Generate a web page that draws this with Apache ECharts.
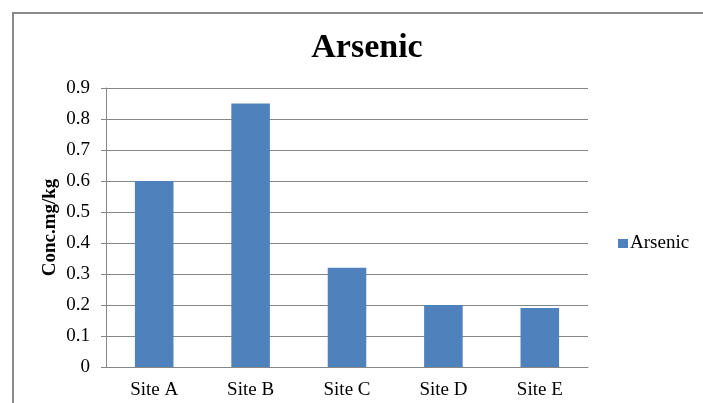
<!DOCTYPE html>
<html>
<head>
<meta charset="utf-8">
<script src="https://cdn.jsdelivr.net/npm/echarts@6/dist/echarts.min.js"></script>
<style>html,body{margin:0;padding:0;background:#fff;}#c{width:703px;height:403px;}</style>
</head>
<body>
<div id="c"></div>
<script>
const categories = ['Site A', 'Site B', 'Site C', 'Site D', 'Site E'];
const arsenic = [0.6, 0.85, 0.32, 0.2, 0.19];
const yTicks = { min: 0, max: 0.9, interval: 0.1 };

const serif = '"Liberation Serif", "Times New Roman", serif';
const chart = echarts.init(document.getElementById('c'), null, { renderer: 'canvas' });
chart.setOption({
  animation: false,
  backgroundColor: '#fff',
  graphic: [{
    type: 'rect',
    shape: { x: 13, y: 13, width: 720, height: 420 },
    style: { fill: 'none', stroke: '#8a8a8a', lineWidth: 2 },
    silent: true
  }],
  title: {
    text: 'Arsenic',
    left: 362, top: 26, textAlign: 'center',
    textStyle: { fontFamily: serif, fontWeight: 'bold', fontSize: 34, color: '#000' }
  },
  legend: {
    data: ['Arsenic'],
    orient: 'vertical',
    left: 613, top: 229,
    itemWidth: 10, itemHeight: 9, itemGap: 4,
    icon: 'rect',
    textStyle: { fontFamily: serif, fontSize: 19, color: '#000', padding: [0, 0, 0, -3] }
  },
  grid: { left: 106, right: 115, top: 88, bottom: 36 },
  xAxis: {
    type: 'category',
    data: categories,
    axisLine: { lineStyle: { color: '#868686', width: 1 } },
    axisTick: { show: false },
    axisLabel: { fontFamily: serif, fontSize: 19, color: '#000', margin: 14 }
  },
  yAxis: {
    type: 'value',
    min: yTicks.min, max: yTicks.max, interval: yTicks.interval,
    name: 'Conc.mg/kg',
    nameLocation: 'middle',
    nameGap: 46,
    nameRotate: 90,
    nameMoveOverlap: false,
    nameTextStyle: { fontFamily: serif, fontWeight: 'bold', fontSize: 19, color: '#000' },
    axisLine: { show: true, lineStyle: { color: '#868686', width: 1 } },
    axisTick: { show: true, length: 5, lineStyle: { color: '#868686' } },
    splitLine: { lineStyle: { color: '#868686', width: 1 } },
    axisLabel: {
      fontFamily: serif, fontSize: 19, color: '#000', margin: 16,
      formatter: v => String(Math.round(v * 10) / 10)
    }
  },
  series: [{
    name: 'Arsenic',
    type: 'bar',
    data: arsenic,
    barWidth: '40%',
    itemStyle: { color: '#4F81BD' }
  }]
});
</script>
</body>
</html>
